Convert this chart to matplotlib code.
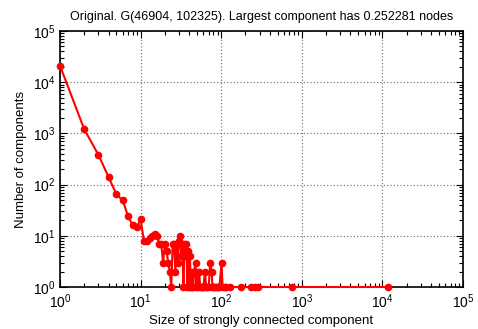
import matplotlib
matplotlib.use("Agg")
import matplotlib.pyplot as plt
from matplotlib.ticker import LogLocator, FixedLocator

plt.rcParams['font.family'] = ['Liberation Sans', 'DejaVu Sans']
plt.rcParams['mathtext.fontset'] = 'custom'
plt.rcParams['mathtext.rm'] = 'Liberation Sans'
plt.rcParams['mathtext.it'] = 'Liberation Sans'
plt.rcParams['mathtext.default'] = 'regular'

title = "Original. G(46904, 102325). Largest component has 0.252281 nodes"
xlabel = "Size of strongly connected component"
ylabel = "Number of components"

sizes = [1, 2, 3, 4, 5, 6, 7, 8, 9, 10,
         11, 12, 13, 14, 15, 16, 17, 18, 19, 20,
         21, 22, 23, 24, 25, 26, 27, 28, 29, 30,
         31, 32, 33, 34, 35, 36, 37, 38, 39, 40,
         41, 42, 43, 44, 45, 46, 48, 49, 50, 52,
         53, 55, 57, 58, 60, 63, 65, 67, 70, 73,
         76, 78, 80, 83, 86, 90, 95, 101, 104, 110,
         116, 128, 175, 234, 261, 287, 749, 11833]
counts = [21000, 1200, 380, 141, 65, 49, 24, 16, 15, 21,
          8, 8, 9, 10, 11, 10, 7, 7, 3, 7,
          5, 3, 2, 1, 7, 7, 2, 7, 3, 8,
          10, 4, 7, 1, 7, 4, 7, 1, 5, 1,
          4, 1, 2, 1, 1, 2, 3, 1, 2, 1,
          2, 1, 1, 1, 1, 2, 1, 1, 1, 3,
          2, 1, 1, 1, 1, 1, 1, 3, 1, 1,
          1, 1, 1, 1, 1, 1, 1, 1]

fig = plt.figure(figsize=(4.78, 3.29), dpi=100)
ax = fig.add_axes([60/478, 42/329, 403/478, 256/329])

ax.plot(sizes, counts, color='#ff0000', lw=1.5, marker='o', ms=4.5,
        mfc='#ff0000', mec='#ff0000', clip_on=False, zorder=3)

ax.set_xscale('log')
ax.set_yscale('log')
ax.set_xlim(1, 1e5)
ax.set_ylim(1, 1e5)

decades = [1, 10, 100, 1000, 10000, 100000]
ax.xaxis.set_major_locator(FixedLocator(decades))
ax.yaxis.set_major_locator(FixedLocator(decades))
ax.xaxis.set_minor_locator(LogLocator(base=10, subs=range(2, 10), numticks=20))
ax.yaxis.set_minor_locator(LogLocator(base=10, subs=range(2, 10), numticks=20))
labels = [r'$10^{%d}$' % i for i in range(6)]
ax.set_xticklabels(labels)
ax.set_yticklabels(labels)

ax.tick_params(which='both', direction='in', top=True, right=True, labelsize=10)
ax.tick_params(which='major', length=5, width=0.8)
ax.tick_params(which='minor', length=3, width=0.8)
ax.tick_params(axis='x', pad=4)

ax.grid(True, which='major', linestyle=(0, (1, 2)), color='#666666', linewidth=0.8)
for s in ax.spines.values():
    s.set_linewidth(1.2)
    s.set_zorder(2.6)

ax.set_title(title, fontsize=9, pad=8)
ax.set_xlabel(xlabel, fontsize=9.5, labelpad=3)
ax.set_ylabel(ylabel, fontsize=9.5, labelpad=4)

fig.savefig("out.png", dpi=100)
